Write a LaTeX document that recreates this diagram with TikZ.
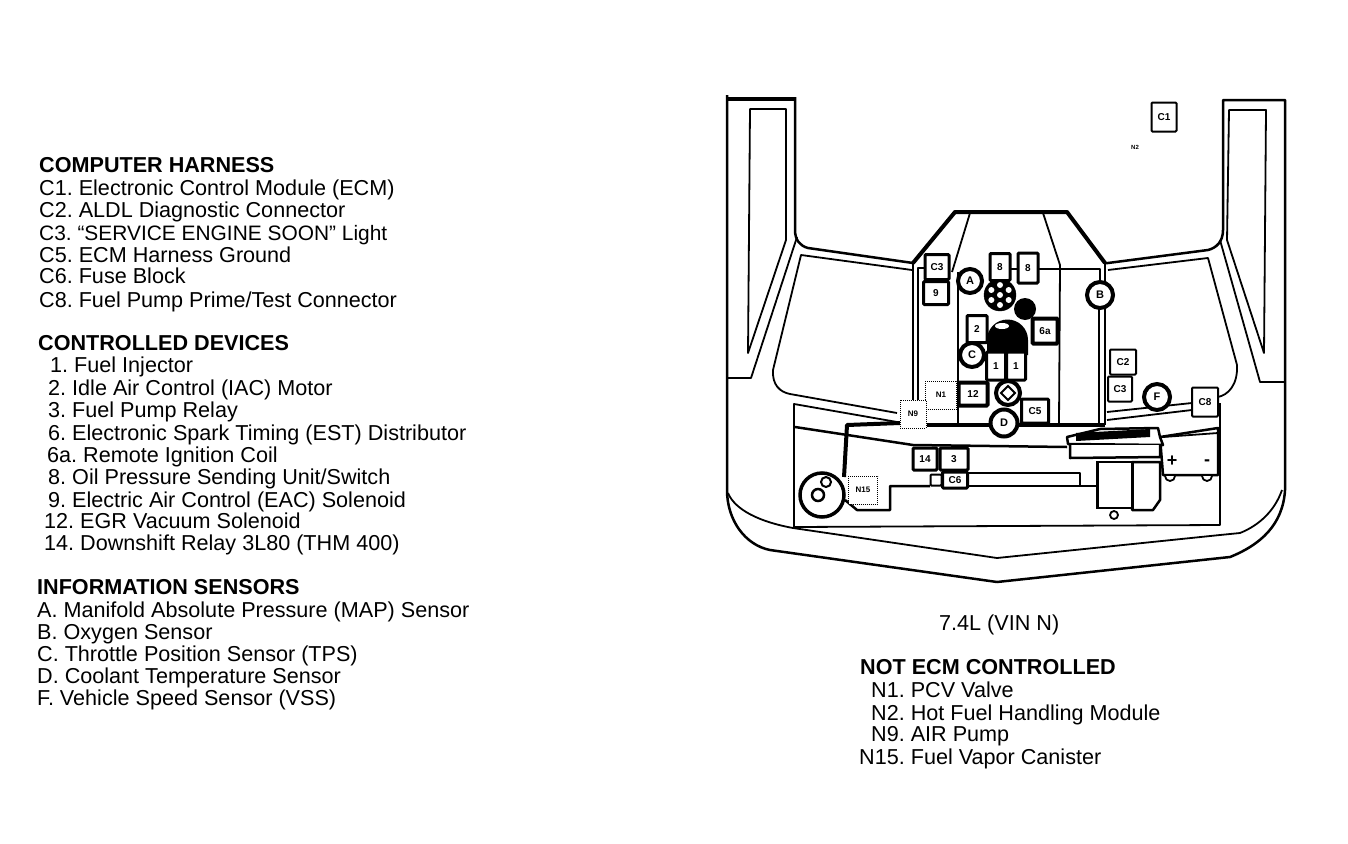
\documentclass[tikz,border=0pt]{standalone}
\usepackage{fontspec}
\setmainfont{Liberation Sans}
\usetikzlibrary{positioning}
\tikzset{
 item/.style={anchor=base west,inner sep=0pt,font=\fontsize{21.6}{22}\selectfont\frenchspacing},
 head/.style={item,font=\fontsize{21.6}{22}\selectfont\bfseries},
 part/.style={draw,line width=3pt,fill=white,inner sep=0pt,rounded corners=1pt,font=\fontsize{10}{10}\selectfont\bfseries},
 sensor/.style={circle,draw,line width=4pt,fill=white,inner sep=0pt,minimum size=24pt,font=\fontsize{11}{11}\selectfont\bfseries},
 dotbox/.style={draw,densely dotted,line width=1pt,fill=white,inner sep=0pt,font=\fontsize{8}{8}\selectfont\bfseries},
 body/.style={line width=2.5pt,line join=round},
 heavy/.style={line width=4pt,line join=round},
 thin/.style={line width=1.8pt,line join=round}}
\begin{document}
\begin{tikzpicture}[x=1pt,y=-1pt]
 \useasboundingbox (0,0) rectangle (1348,843);
 \node[head] (harness) at (39,172) {COMPUTER HARNESS};
 \node[item] (tc1) at (39,195) {C1. Electronic Control Module (ECM)};
 \node[item] (tc2) at (39,217) {C2. ALDL Diagnostic Connector};
 \node[item,font=\fontsize{20.9}{22}\selectfont\frenchspacing] (tc3) at (39,240) {C3. “SERVICE ENGINE SOON” Light};
 \node[item] (tc5) at (39,262) {C5. ECM Harness Ground};
 \node[item] (tc6) at (39,283) {C6. Fuse Block};
 \node[item] (tc8) at (39,307) {C8. Fuel Pump Prime/Test Connector};
 \node[head] (devices) at (38,350) {CONTROLLED DEVICES};
 \node[item] (t1) at (50,372) {1. Fuel Injector};
 \node[item] (t2) at (48,395) {2. Idle Air Control (IAC) Motor};
 \node[item] (t3) at (48,417) {3. Fuel Pump Relay};
 \node[item] (t6) at (48,440) {6. Electronic Spark Timing (EST) Distributor};
 \node[item] (t6a) at (47,462) {6a. Remote Ignition Coil};
 \node[item] (t8) at (48,484) {8. Oil Pressure Sending Unit/Switch};
 \node[item] (t9) at (48,507) {9. Electric Air Control (EAC) Solenoid};
 \node[item] (t12) at (44,528) {12. EGR Vacuum Solenoid};
 \node[item] (t14) at (44,550) {14. Downshift Relay 3L80 (THM 400)};
 \node[head] (sensors) at (37,594) {INFORMATION SENSORS};
 \node[item] (ta) at (37,617) {A. Manifold Absolute Pressure (MAP) Sensor};
 \node[item] (tb) at (37,639) {B. Oxygen Sensor};
 \node[item] (tc) at (37,661) {C. Throttle Position Sensor (TPS)};
 \node[item] (td) at (37,683) {D. Coolant Temperature Sensor};
 \node[item] (tf) at (37,705) {F. Vehicle Speed Sensor (VSS)};
 \node[item] (engine) at (939,630) {7.4L (VIN N)};
 \node[head] (notecm) at (860,674) {NOT ECM CONTROLLED};
 \node[item] (tn1) at (871,697) {N1. PCV Valve};
 \node[item] (tn2) at (871,720) {N2. Hot Fuel Handling Module};
 \node[item] (tn9) at (871,741) {N9. AIR Pump};
 \node[item] (tn15) at (859,764) {N15. Fuel Vapor Canister};
 % body outline
 \draw[body] (727,95)--(727,490) .. controls (727,520) and (745,545) .. (770,550)--(997,582)--(1230,557) .. controls (1260,545) and (1283,525) .. (1285,490)--(1285,100)--(1223,100)--(1223,230) .. controls (1223,242) and (1216,248) .. (1208,250)--(1108,263)--(1105,263);
 \draw[heavy] (727,99)--(795,99);
 \draw[body] (795,97)--(795,230) .. controls (795,240) and (800,246) .. (808,248)--(913,263);
 \draw[heavy] (913,263)--(955,212)--(1067,212)--(1105,263);
 \draw[thin] (750,109)--(786,109)--(786,240)--(748,353)--cycle;
 \draw[thin] (1229,110)--(1266,110)--(1264,353)--(1227,240)--cycle;
 \draw[thin] (797,237)--(751,378)--(727,378);
 \draw[thin] (1220,240)--(1260,382)--(1285,382);
 \draw[thin] (728,493) .. controls (735,510) and (760,522) .. (793,528)--(997,558)--(1220,535)--(1240,533) .. controls (1260,525) and (1275,510) .. (1282,490);
 \draw[thin] (912,270)--(801,255)--(773,370) .. controls (772,385) and (780,392) .. (790,394)--(897,413);
 \draw[thin] (1108,270)--(1208,258)--(1237,365) .. controls (1238,385) and (1228,395) .. (1218,397);
 % engine bay
 \draw[thin] (897,422)--(794,404)--(794,527)--(1220,525)--(1220,403);
 \draw[body] (795,427)--(913,445)--(1067,447);
 \draw[thin] (970,213)--(952,272);
 \draw[thin] (1043,213)--(1060,265)--(1059,423);
 \draw[thin] (958,272)--(958,423);
 \draw[body] (1010,269)--(1100,269)--(1100,285);
 \draw[body] (913,263)--(913,400);
 \draw[body] (925,268)--(918,268)--(918,400);
 \draw[body] (1099,300)--(1099,425);
 \draw[body] (1105,263)--(1105,425);
 \draw[heavy] (900,423)--(847,425)--(844,477);
 \draw[heavy] (927,425)--(1105,425);
 \draw[body] (845,500)--(857,510)--(890,510)--(890,486)--(930,486);
 \draw[body] (968,473)--(1080,473)--(1080,486)--(968,486);
 \draw[body] (1080,486)--(1098,486);
 \draw[thin] (1107,412)--(1192,403);
 \draw[thin] (1107,420)--(1192,410);
 % canister
 \node[circle,draw,line width=3.5pt,fill=white,minimum size=44pt,inner sep=0pt] (canister) at (822,495) {};
 \draw[line width=2.5pt] (818,495) circle (6);
 \draw[line width=2pt] (826,482) circle (5);
 \node[dotbox,minimum width=29pt,minimum height=28pt] (n15) at (863,490) {N15};
 % battery and rail
 \draw[body,fill=white] (1160,437)--(1218,428)--(1218,475)--(1163,475)--cycle;
 \draw[thin] (1163,437)--(1218,433);
 \node[inner sep=0pt,font=\fontsize{18}{18}\selectfont\bfseries] (plus) at (1172,461) {+};
 \node[inner sep=0pt,font=\fontsize{18}{18}\selectfont\bfseries] (minus) at (1207,463) {-};
 \draw[thin,fill=white] (1165,476) arc (180:0:5);
 \draw[thin,fill=white] (1202,476) arc (180:0:5);
 \draw[body,fill=white] (1067,437)--(1100,429)--(1158,428)--(1160,437)--(1163,445)--(1068,444)--cycle;
 \fill (1076,433)--(1150,429)--(1150,437)--(1076,441)--cycle;
 \draw[body,fill=white] (1070,445)--(1070,458)--(1160,457)--(1160,445);
 \draw[body,fill=white] (1132,462)--(1160,462)--(1160,500)--(1153,510)--(1132,510)--cycle;
 \draw[thin,fill=white] (1114,515) circle (4);
 \node[draw,line width=2.5pt,fill=white,minimum width=35pt,minimum height=46pt,inner sep=0pt] (relaybox) at (1115,485) {};
 % centre of engine
 \node[circle,draw,fill=black,minimum size=32pt,inner sep=0pt] (distributor) at (1000,295) {};
 \foreach \a in {30,90,150,210,270,330}
  \fill[white] (1000,295)++(\a:10) circle (3);
 \fill[white] (1000,295) circle (3);
 \fill (1025,309) circle (11);
 \fill (987,355) -- (987,340) arc (180:360:20.5) -- (1028,355)--cycle;
 \fill[white] (1002,326) ellipse (7 and 3);
 \node[part,minimum width=24pt,minimum height=25pt] (c3) at (937,267) {C3};
 \node[part,minimum width=25pt,minimum height=23pt] (p9) at (936,293) {9};
 \node[part,minimum width=20pt,minimum height=27pt] (p8a) at (1000,267) {8};
 \node[part,minimum width=20pt,minimum height=30pt] (p8b) at (1028,268) {8};
 \node[part,minimum width=20pt,minimum height=27pt] (p2) at (977,329) {2};
 \node[part,line width=4pt,minimum width=25pt,minimum height=25pt] (p6a) at (1045,331) {6a};
 \node[part,minimum width=19pt,minimum height=28pt] (p1a) at (996,366) {1};
 \node[part,minimum width=19pt,minimum height=28pt] (p1b) at (1016,366) {1};
 \node[part,line width=4pt,minimum width=29pt,minimum height=23pt] (p12) at (973,394) {12};
 \node[part,minimum width=27pt,minimum height=24pt] (c5) at (1035,411) {C5};
 \node[part,line width=2pt,minimum width=26pt,minimum height=25pt] (c2) at (1123,362) {C2};
 \node[part,line width=2pt,minimum width=24pt,minimum height=25pt] (c3b) at (1120,389) {C3};
 \node[part,line width=2pt,minimum width=26pt,minimum height=29pt] (c8) at (1205,402) {C8};
 \node[part,line width=2pt,minimum width=25pt,minimum height=29pt] (c1) at (1164,117) {C1};
 \node[part,minimum width=24pt,minimum height=22pt] (p14) at (925,459) {14};
 \node[part,minimum width=28pt,minimum height=22pt] (p3) at (954,459) {3};
 \node[part,line width=2pt,minimum width=11pt,minimum height=11pt] (gap) at (936,480) {};
 \node[part,minimum width=25pt,minimum height=16pt] (c6) at (955,480) {C6};
 \node[sensor] (sa) at (970,281) {A};
 \node[sensor,minimum size=26pt] (sb) at (1100,295) {B};
 \node[sensor] (sc) at (972,355) {C};
 \node[sensor,minimum size=27pt] (sd) at (1004,423) {D};
 \node[sensor,minimum size=26pt] (sf) at (1157,397) {F};
 \node[sensor] (stemp) at (1008,393) {};
 \draw[line width=2pt] (1008,386)--(1015,393)--(1008,400)--(1001,393)--cycle;
 \node[dotbox,minimum width=31pt,minimum height=28pt] (n1) at (941,395) {N1};
 \node[dotbox,minimum width=26pt,minimum height=28pt] (n9) at (913,414) {N9};
 \node[inner sep=0pt,font=\fontsize{6}{6}\selectfont\bfseries] (n2) at (1135,147) {N2};
\end{tikzpicture}
\end{document}
